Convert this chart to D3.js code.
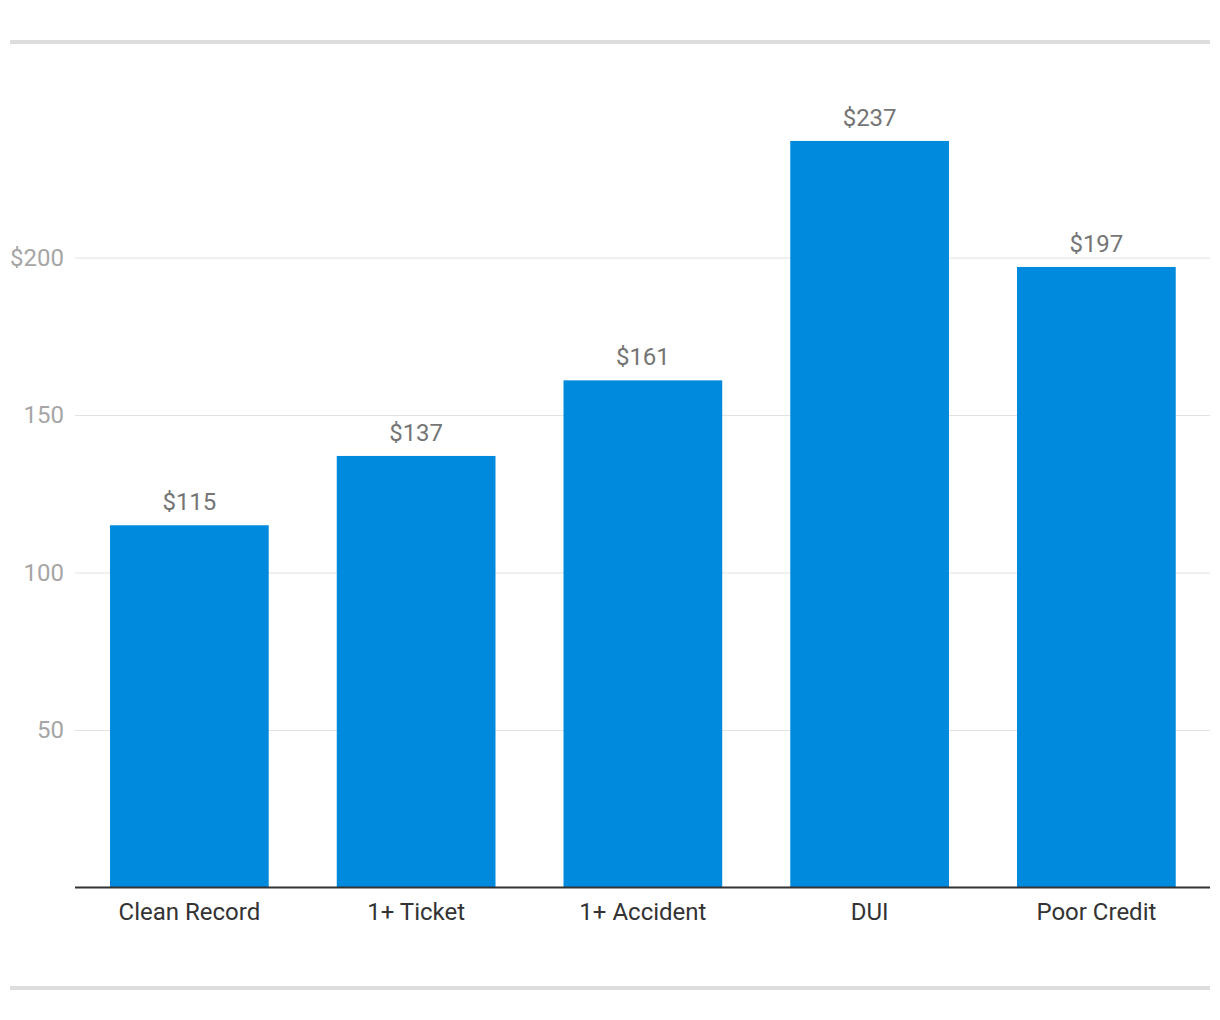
<!DOCTYPE html>
<html>
<head>
<meta charset="utf-8">
<script src="https://cdn.jsdelivr.net/npm/d3@7"></script>
<style>
  html, body { margin: 0; padding: 0; background: #fff; }
  svg { display: block; font-family: Roboto, "Noto Sans", sans-serif; }
</style>
</head>
<body>
<svg id="chart" width="1220" height="1020"></svg>
<script>
const categories = ["Clean Record", "1+ Ticket", "1+ Accident", "DUI", "Poor Credit"];
const values = [115, 137, 161, 237, 197];
const yTicks = [50, 100, 150, 200];
const yTickLabels = ["50", "100", "150", "$200"];

const svg = d3.select("#chart");
const left = 75, right = 1210, baseY = 887.5;

const x = d3.scaleBand().domain(categories).range([left + 1, right - 0.25]).paddingInner(0.3).paddingOuter(0.15);
const y = d3.scaleLinear().domain([0, 250]).range([baseY, baseY - 250 * 3.15]);

// top/bottom frame lines
svg.append("rect").attr("x", 10).attr("y", 40).attr("width", 1200).attr("height", 4).attr("fill", "#dddddd");
svg.append("rect").attr("x", 10).attr("y", 986).attr("width", 1200).attr("height", 4).attr("fill", "#dddddd");

// grid
const yAxis = d3.axisLeft(y).tickValues(yTicks).tickSize(-(right - left)).tickPadding(11)
  .tickFormat((d, i) => yTickLabels[i]);
const gy = svg.append("g").attr("transform", `translate(${left},0)`).call(yAxis);
gy.select(".domain").remove();
gy.selectAll(".tick line").attr("stroke", "#e2e2e2").attr("stroke-width", 1);
gy.selectAll(".tick text").attr("fill", "#a6a6a6").attr("font-size", 24).attr("font-family", "Roboto")
  .attr("dy", "0.33em");

// bars
svg.append("g").selectAll("rect").data(values).join("rect")
  .attr("x", (d, i) => x(categories[i]))
  .attr("y", d => y(d))
  .attr("width", x.bandwidth())
  .attr("height", d => y(0) - y(d))
  .attr("fill", "#008ade");

// value labels
svg.append("g").selectAll("text").data(values).join("text")
  .attr("x", (d, i) => x(categories[i]) + x.bandwidth() / 2)
  .attr("y", d => y(d) - 15)
  .attr("text-anchor", "middle")
  .attr("font-size", 24)
  .attr("fill", "#757575")
  .text(d => "$" + d);

// x axis
const xAxis = d3.axisBottom(x).tickSize(0).tickPadding(15);
const gx = svg.append("g").attr("transform", `translate(0,${baseY})`).call(xAxis);
gx.select(".domain").attr("stroke", "#333").attr("stroke-width", 2).attr("d", `M${left},0H${right}`);
gx.selectAll(".tick text").attr("fill", "#333").attr("font-size", 24).attr("font-family", "Roboto");
</script>
</body>
</html>
